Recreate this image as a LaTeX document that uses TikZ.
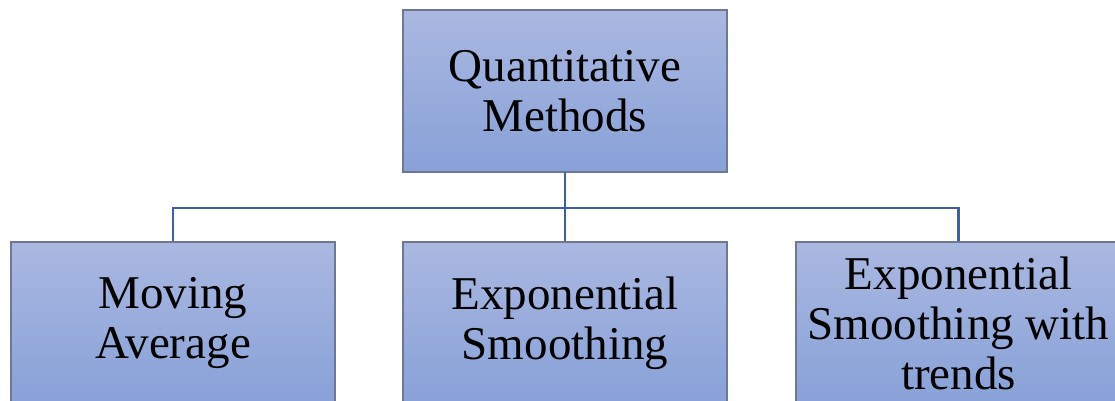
\documentclass[tikz,border=0pt]{standalone}
\usepackage{fontspec}
\setmainfont{Liberation Serif}
\definecolor{boxtop}{HTML}{AAB8E1}
\definecolor{boxbot}{HTML}{88A1D8}
\definecolor{boxedge}{HTML}{6E7890}
\definecolor{linkc}{HTML}{3E5FA3}
\tikzset{
  catbox/.style={draw=boxedge, line width=1.5pt, top color=boxtop, bottom color=boxbot,
    minimum width=324pt, minimum height=162pt, align=center, inner sep=0pt,
    font=\fontsize{47}{50}\selectfont},
  link/.style={draw=linkc, line width=2.5pt}
}
\begin{document}
\begin{tikzpicture}[x=1pt,y=1pt]
\useasboundingbox (0,0) rectangle (1115,-401);
\clip (0,0) rectangle (1115,-401);
\node[catbox] (top) at (565,-91) {Quantitative\\Methods};
\node[catbox] (ma) at (173,-323) {Moving\\Average};
\node[catbox] (es) at (565,-323) {Exponential\\Smoothing};
\node[catbox, minimum width=325pt] (est) at (958.5,-323) {Exponential\\Smoothing with\\trends};
\coordinate (bus) at (566,-208);
\draw[link] (top.south) -- (top.south |- bus);
\draw[link] (top.south |- bus) -| (ma.north);
\draw[link] (top.south |- bus) -| (est.north);
\draw[link] (top.south |- bus) -- (es.north);
\end{tikzpicture}
\end{document}
